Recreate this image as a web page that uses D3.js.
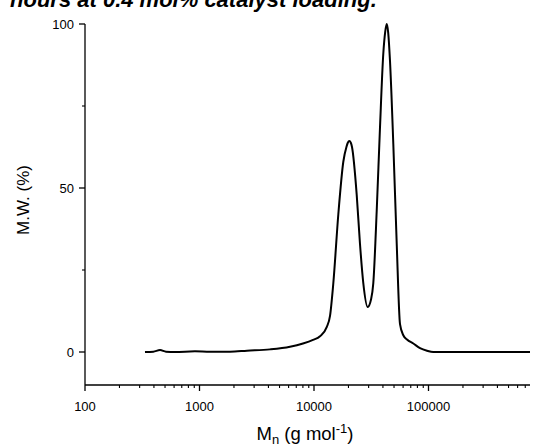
<!DOCTYPE html>
<html>
<head>
<meta charset="utf-8">
<script src="https://cdn.jsdelivr.net/npm/d3@7"></script>
<style>
  html, body { margin: 0; padding: 0; background: #fff; }
  svg { display: block; }
  text { font-family: "Liberation Sans", Arial, sans-serif; fill: #000; }
</style>
</head>
<body>
<svg id="chart" width="534" height="446"></svg>
<script>
// Molecular weight (g/mol) and M.W. (%)
const molWeights = [334, 395, 452, 510, 611, 913, 1235, 1847, 2599, 4128, 6172, 8013, 9800, 11280, 12910, 13800, 14750, 16310, 18030, 19220, 19740, 20340, 20960, 21470, 23600, 25210, 26950, 29440, 31470, 32960, 35290, 37710, 40300, 41870, 43140, 44460, 46110, 49280, 52780, 56390, 60260, 64920, 73670, 84310, 97030, 110100, 281800, 770000];
const mwPercent  = [0, 0.1, 0.6, 0.1, 0, 0.2, 0.05, 0.1, 0.4, 0.8, 1.6, 2.6, 3.7, 4.8, 7.6, 11, 21, 42, 58, 62.6, 63.8, 64.3, 63.8, 62.5, 48, 33, 21, 13.7, 16, 21, 43, 68.5, 91, 97.6, 100, 97.4, 88.7, 63.4, 33, 8.5, 5.1, 3.8, 2.6, 1.2, 0.4, 0, 0, 0];
const xMajorTicks = [100, 1000, 10000, 100000];
const yMajorTicks = [0, 50, 100];
const yMinorTicks = [25, 75];
const titleText = "hours at 0.4 mol% catalyst loading.";

const svg = d3.select("#chart");
const plotLeft = 85, plotRight = 530, plotTop = 24, zeroY = 352, plotBottom = 385;
const xMax = 770000;

const x = d3.scaleLog().domain([100, xMax]).range([plotLeft, plotRight]);
const y = d3.scaleLinear().domain([0, 100]).range([zeroY, plotTop]);

// cropped title at top
svg.append("text")
  .attr("x", 10).attr("y", 7)
  .attr("font-size", 22).attr("font-weight", "bold").attr("font-style", "italic")
  .text(titleText);

// minor x ticks
const xMinor = [];
for (let d = 100; d < xMax; d *= 10) {
  for (let k = 2; k <= 9; k++) if (d * k <= xMax) xMinor.push(d * k);
}

const xAxis = svg.append("g").attr("transform", `translate(0,${plotBottom})`);
xAxis.append("line").attr("x1", plotLeft).attr("x2", plotRight).attr("stroke", "#000").attr("stroke-width", 1.3);
xAxis.selectAll(".minor").data(xMinor).join("line")
  .attr("x1", d => x(d)).attr("x2", d => x(d)).attr("y1", 0).attr("y2", 3)
  .attr("stroke", "#000").attr("stroke-width", 1.1);
xAxis.selectAll(".major").data(xMajorTicks).join("line")
  .attr("x1", d => x(d)).attr("x2", d => x(d)).attr("y1", 0).attr("y2", 6)
  .attr("stroke", "#000").attr("stroke-width", 1.3);
xAxis.selectAll(".lab").data(xMajorTicks).join("text")
  .attr("x", d => x(d)).attr("y", 26)
  .attr("text-anchor", "middle").attr("font-size", 13)
  .text(d => String(d));

const yAxis = svg.append("g").attr("transform", `translate(${plotLeft},0)`);
yAxis.append("line").attr("y1", y(100)).attr("y2", plotBottom).attr("stroke", "#000").attr("stroke-width", 1.3);
yAxis.selectAll(".minor").data(yMinorTicks).join("line")
  .attr("x1", -3).attr("x2", 0).attr("y1", d => y(d)).attr("y2", d => y(d))
  .attr("stroke", "#000").attr("stroke-width", 1.1);
yAxis.selectAll(".major").data(yMajorTicks).join("line")
  .attr("x1", -6).attr("x2", 0).attr("y1", d => y(d)).attr("y2", d => y(d))
  .attr("stroke", "#000").attr("stroke-width", 1.3);
yAxis.selectAll(".lab").data(yMajorTicks).join("text")
  .attr("x", -11).attr("y", d => y(d) + 4.5)
  .attr("text-anchor", "end").attr("font-size", 13)
  .text(d => String(d));

// axis titles
svg.append("text")
  .attr("transform", `translate(29,200) rotate(-90)`)
  .attr("text-anchor", "middle").attr("font-size", 17)
  .text("M.W. (%)");

const xt = svg.append("text")
  .attr("x", 305).attr("y", 440)
  .attr("text-anchor", "middle").attr("font-size", 18.5);
xt.append("tspan").text("M");
xt.append("tspan").attr("font-size", 13).attr("dy", 4).text("n");
xt.append("tspan").attr("dy", -4).text(" (g mol");
xt.append("tspan").attr("font-size", 13).attr("dy", -7).text("-1");
xt.append("tspan").attr("dy", 7).text(")");

// trace
const data = molWeights.map((m, i) => ({ m, v: mwPercent[i] }));
svg.append("path")
  .datum(data)
  .attr("fill", "none").attr("stroke", "#000").attr("stroke-width", 2)
  .attr("stroke-linejoin", "round")
  .attr("d", d3.line().x(d => x(d.m)).y(d => y(d.v)).curve(d3.curveMonotoneX));
</script>
</body>
</html>
